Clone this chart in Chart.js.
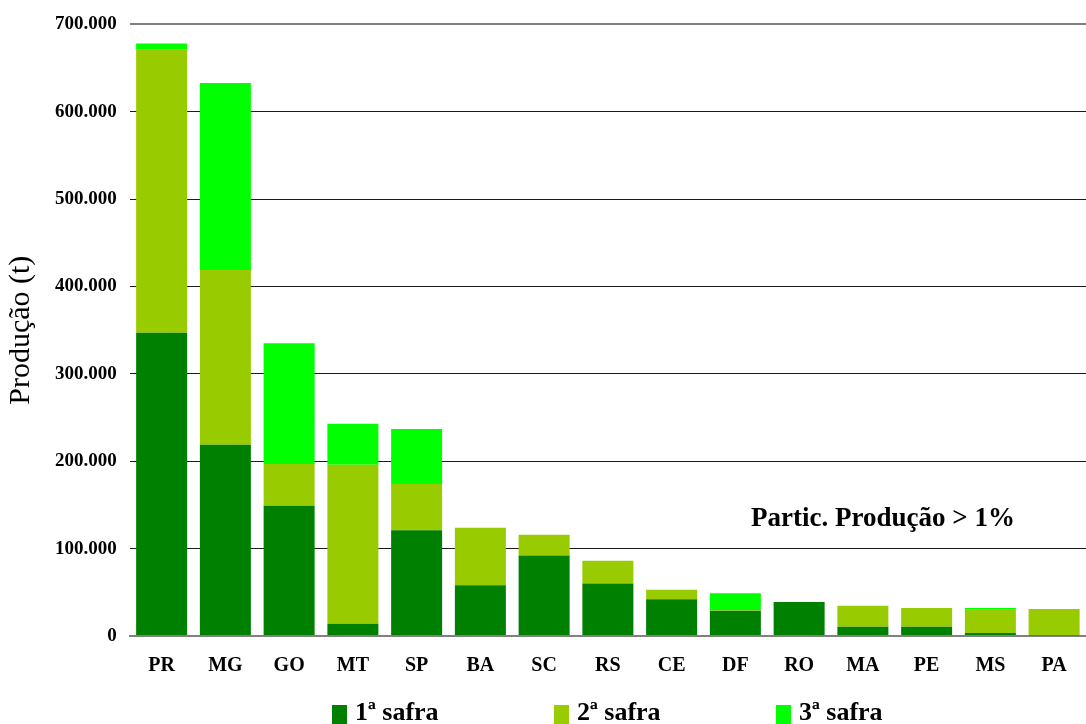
<!DOCTYPE html>
<html>
<head>
<meta charset="utf-8">
<script src="https://cdn.jsdelivr.net/npm/chart.js@4/dist/chart.umd.min.js"></script>
<style>
  html, body { margin: 0; padding: 0; background: #fff; }
  #wrap { position: relative; width: 1086px; height: 724px; overflow: hidden; }
  #legend { position: absolute; left: 332px; top: 697px; display: flex; }
  .item { width: 222px; display: flex; align-items: center; font: bold 26px "Liberation Serif", serif; color: #000; }
  .box { width: 15px; height: 19px; margin-right: 8px; margin-top: 4px; }
</style>
</head>
<body>
<div id="wrap">
  <canvas id="chart" width="1086" height="724"></canvas>
  <div id="legend"></div>
</div>
<script>
// Produção por UF (t)
const estados = ['PR', 'MG', 'GO', 'MT', 'SP', 'BA', 'SC', 'RS', 'CE', 'DF', 'RO', 'MA', 'PE', 'MS', 'PA'];
const safra1 = [347000, 219000, 149000, 14000, 121000, 58000, 92000, 60000, 42000, 29000, 39000, 10500, 10500, 3500, 500];
const safra2 = [324000, 200000, 48000, 182000, 53000, 66000, 24000, 26000, 11000, 500, 0, 24000, 21500, 26500, 30500];
const safra3 = [7000, 214000, 138000, 47000, 63000, 0, 0, 0, 0, 19500, 0, 0, 0, 2000, 0];
const series = ['1ª safra', '2ª safra', '3ª safra'];
const cores = ['#008000', '#99CC00', '#00FF00'];
const yTicks = [0, 100000, 200000, 300000, 400000, 500000, 600000, 700000];

const serif = '"Liberation Serif", "Times New Roman", serif';

const fmt = v => v.toLocaleString('de-DE');

// texto de anotação
const nota = {
  id: 'nota',
  afterDraw(chart) {
    const ctx = chart.ctx;
    ctx.save();
    ctx.font = 'bold 27px ' + serif;
    ctx.fillStyle = '#000';
    ctx.textAlign = 'center';
    ctx.textBaseline = 'middle';
    ctx.fillText('Partic. Produção > 1%', 883, 519);
    ctx.restore();
  }
};

new Chart(document.getElementById('chart').getContext('2d'), {
  type: 'bar',
  data: {
    labels: estados,
    datasets: [safra1, safra2, safra3].map((d, i) => ({
      label: series[i],
      data: d,
      backgroundColor: cores[i],
      borderWidth: 0,
      barPercentage: 0.8,
      categoryPercentage: 1.0
    }))
  },
  options: {
    responsive: false,
    animation: false,
    layout: { padding: { left: 3, right: 0, top: 22, bottom: 36 } },
    plugins: {
      legend: { display: false },
      tooltip: { enabled: false }
    },
    scales: {
      x: {
        stacked: true,
        grid: { display: false },
        border: { display: true, color: '#808080', width: 2 },
        ticks: { color: '#000', padding: 10, font: { family: serif, size: 20, weight: 'bold' } }
      },
      y: {
        stacked: true,
        min: 0,
        max: 700000,
        afterBuildTicks: axis => { axis.ticks = yTicks.map(v => ({ value: v })); },
        border: { display: false },
        grid: {
          drawTicks: false,
          color: c => (c.tick.value === 0 || c.tick.value === 700000) ? '#808080' : '#1a1a1a',
          lineWidth: c => (c.tick.value === 0 || c.tick.value === 700000) ? 2 : 1
        },
        ticks: {
          color: '#000',
          padding: 13,
          font: { family: serif, size: 19, weight: 'bold' },
          callback: v => fmt(v)
        },
        title: {
          display: true,
          text: 'Produção (t)',
          color: '#000',
          padding: { top: 0, bottom: 3 },
          font: { family: serif, size: 30, weight: 'normal' }
        }
      }
    }
  },
  plugins: [nota]
});

const leg = document.getElementById('legend');
series.forEach((s, i) => {
  const el = document.createElement('div');
  el.className = 'item';
  el.innerHTML = '<span class="box" style="background:' + cores[i] + '"></span>' + s;
  leg.appendChild(el);
});
</script>
</body>
</html>
